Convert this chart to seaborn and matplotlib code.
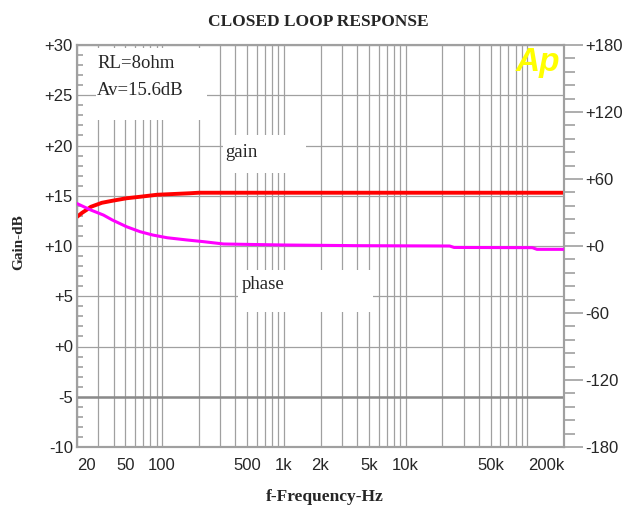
import numpy as np
import pandas as pd
import matplotlib
matplotlib.use("Agg")
import matplotlib.pyplot as plt
import seaborn as sns
from matplotlib.ticker import FixedLocator, LogLocator, NullFormatter, MultipleLocator
from matplotlib.patches import Rectangle

# ---- data ----
freq_gain = [20, 22, 24, 26, 32, 39, 51, 66, 91, 170, 200, 1000, 10000, 100000, 200000]
gain_db = [12.9, 13.3, 13.6, 13.9, 14.3, 14.5, 14.75, 14.9, 15.1, 15.25, 15.3, 15.3, 15.3, 15.3, 15.3]

freq_phase = [20, 26, 33, 39, 51, 66, 84, 110, 160, 218, 320, 1000, 4000, 23000, 25000, 110000, 120000, 200000]
phase_deg = [38, 32.2, 27.7, 23.3, 17.3, 12.8, 9.8, 7.4, 5.4, 3.9, 1.8, 0.9, 0.3, 0.0, -1.3, -1.5, -3.0, -3.0]

x_ticks = [20, 50, 100, 500, 1000, 2000, 5000, 10000, 50000, 200000]
x_labels = ["20", "50", "100", "500", "1k", "2k", "5k", "10k", "50k", "200k"]
gain_ticks = [30, 25, 20, 15, 10, 5, 0, -5, -10]
gain_labels = ["+30", "+25", "+20", "+15", "+10", "+5", "+0", "-5", "-10"]
phase_ticks = [180, 120, 60, 0, -60, -120, -180]
phase_labels = ["+180", "+120", "+60", "+0", "-60", "-120", "-180"]

gain_df = pd.DataFrame({"freq": freq_gain, "gain": gain_db})
phase_df = pd.DataFrame({"freq": freq_phase, "phase": phase_deg})

sns.set_style("white")
plt.rcParams["font.family"] = ["Liberation Sans", "DejaVu Sans"]

GRID = "#A0A0A0"
SERIF = ["Liberation Serif", "DejaVu Serif"]

fig = plt.figure(figsize=(6.27, 5.14), dpi=100)
ax = fig.add_axes([77 / 627, 1 - 447 / 514, 487 / 627, 402 / 514])

ax.set_xscale("log")
sns.lineplot(data=gain_df, x="freq", y="gain", ax=ax, color="#FF0000",
             linewidth=2.8, zorder=5)
ax.set_xlim(20, 200000)
ax.set_ylim(-10, 30)

# x axis ticks / grid
ax.xaxis.set_major_locator(FixedLocator(x_ticks))
ax.set_xticklabels(x_labels)
ax.xaxis.set_minor_locator(LogLocator(base=10, subs=np.arange(1, 10), numticks=30))
ax.xaxis.set_minor_formatter(NullFormatter())
ax.tick_params(axis="x", which="both", length=0, pad=8, labelsize=12)
xl = ax.get_xticklabels()
xl[0].set_horizontalalignment("left")
xl[-1].set_horizontalalignment("right")

# left y axis
ax.yaxis.set_major_locator(FixedLocator(gain_ticks))
ax.set_yticklabels(gain_labels)
ax.yaxis.set_minor_locator(MultipleLocator(1))
ax.tick_params(axis="y", which="major", direction="in", length=0, pad=3, labelsize=12)
ax.tick_params(axis="y", which="minor", direction="in", length=4.5, width=1.2, color=GRID)
ax.tick_params(right=False, which="both")

ax.grid(True, which="both", axis="x", color=GRID, linewidth=0.9)
ax.grid(True, which="major", axis="y", color=GRID, linewidth=0.9)
ax.axhline(-5, color="#8A8A8A", linewidth=1.8, zorder=1)

for s in ax.spines.values():
    s.set_color(GRID)
    s.set_linewidth(1.5)

ax.set_xlabel("")
ax.set_ylabel("")

# white label boxes hiding the grid
for (bx, by, bw, bh) in [(0.039, 0.8134, 0.228, 0.179),
                         (0.2998, 0.6816, 0.1704, 0.0945),
                         (0.3306, 0.3358, 0.2772, 0.1045)]:
    ax.add_patch(Rectangle((bx, by), bw, bh, transform=ax.transAxes,
                           facecolor="white", edgecolor="none", zorder=1.5))

ax.text(0.041, 0.943, "RL=8ohm", transform=ax.transAxes, family=SERIF,
        fontsize=13.5, va="baseline", ha="left", zorder=6)
ax.text(0.041, 0.8756, "Av=15.6dB", transform=ax.transAxes, family=SERIF,
        fontsize=13.5, va="baseline", ha="left", zorder=6)
ax.text(0.304, 0.7214, "gain", transform=ax.transAxes, family=SERIF,
        fontsize=13.5, va="baseline", ha="left", zorder=6)
ax.text(0.338, 0.393, "phase", transform=ax.transAxes, family=SERIF,
        fontsize=13.5, va="baseline", ha="left", zorder=6)
ax.text(0.993, 0.995, "Ap", transform=ax.transAxes, color="#FFFF00",
        fontsize=24, fontweight="bold", fontstyle="italic", va="top", ha="right",
        zorder=6)

# right (phase) axis
ax2 = ax.twinx()
sns.lineplot(data=phase_df, x="freq", y="phase", ax=ax2, color="#FF00FF",
             linewidth=2.2, zorder=5)
ax2.set_ylim(-180, 180)
ax2.set_xlim(20, 200000)
ax2.yaxis.set_major_locator(FixedLocator(phase_ticks))
ax2.set_yticklabels(phase_labels)
ax2.yaxis.set_minor_locator(MultipleLocator(12))
ax2.tick_params(axis="y", which="major", direction="out", length=13.5, width=1.2,
                color=GRID, pad=1.5, labelsize=12)
ax2.tick_params(axis="y", which="minor", direction="out", length=8, width=1.2, color=GRID)
ax2.set_ylabel("")
ax2.set_xlabel("")
for s in ax2.spines.values():
    s.set_color(GRID)
    s.set_linewidth(1.5)

fig.text(318 / 627, 1 - 21.5 / 514, "CLOSED LOOP RESPONSE", family=SERIF,
         fontweight="bold", fontsize=12.5, ha="center", va="center")
fig.text(325 / 627, 1 - 497 / 514, "f-Frequency-Hz", family=SERIF,
         fontweight="bold", fontsize=12.5, ha="center", va="center")
fig.text(19 / 627, 1 - 242 / 514, "Gain-dB", family=SERIF, rotation=90,
         fontweight="bold", fontsize=11, ha="center", va="center")

fig.savefig("out.png", dpi=100)
